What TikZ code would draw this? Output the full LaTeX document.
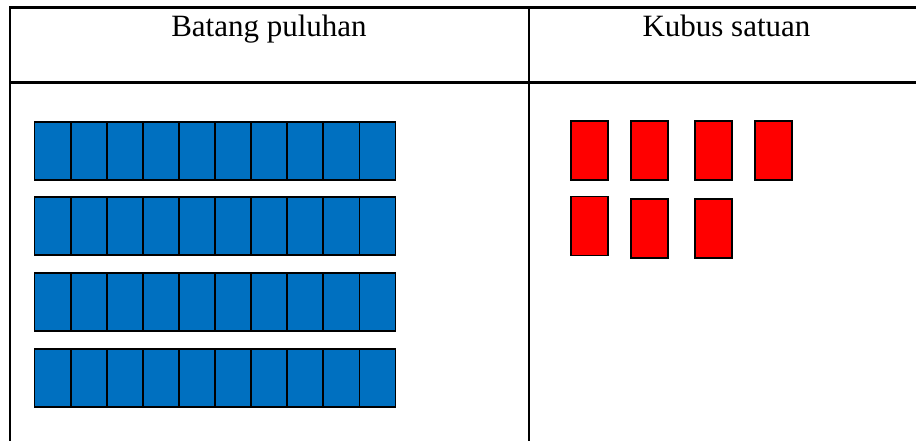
\documentclass[tikz,border=0pt]{standalone}
\usepackage{fontspec}
\setmainfont{Liberation Serif}
\definecolor{tenblue}{HTML}{0070C0}
\definecolor{unitred}{HTML}{FF0000}
\begin{document}
\begin{tikzpicture}[x=1pt,y=-1pt,
  rule/.style={line width=2.5pt},
  header/.style={anchor=base,inner sep=0pt,font=\fontsize{31}{37}\selectfont},
  tencell/.style={draw,fill=tenblue,line width=1.8pt},
  unitcube/.style={draw,fill=unitred,line width=1.5pt}]
\useasboundingbox (0,0) rectangle (916,441);
\draw[rule] (9,7.5) -- (916,7.5);
\draw[rule] (9,82.5) -- (916,82.5);
\draw[rule] (10,6.5) -- (10,441);
\draw[rule] (529,6.5) -- (529,441);
\node[header] (tens) at (269,36.5) {Batang puluhan};
\node[header] (units) at (726.5,36.5) {Kubus satuan};
\foreach \y in {121.7,196.7,272.7,348.7} {
  \foreach \i in {0,...,9} {
    \draw[tencell] (34.5+36.1*\i,\y) rectangle ++(36.1,58);
  }
}
\foreach \x/\y in {571/121,631/121,695/121,755/121,571/196.7,631/199,695/199} {
  \draw[unitcube] (\x,\y) rectangle ++(37,59);
}
\end{tikzpicture}
\end{document}
